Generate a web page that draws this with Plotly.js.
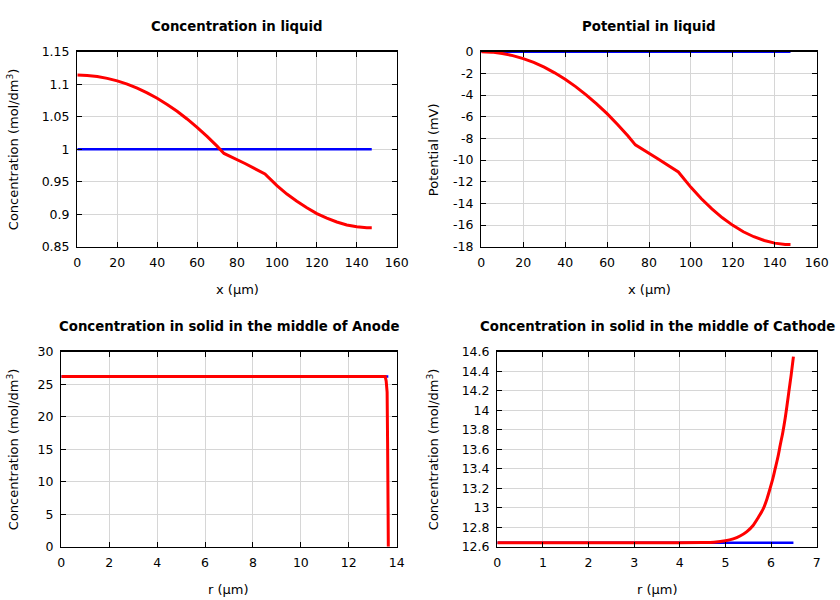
<!DOCTYPE html>
<html>
<head>
<meta charset="utf-8">
<script src="https://cdn.plot.ly/plotly-3.0.1.min.js"></script>
<style>html,body{margin:0;padding:0;background:#fff}#chart{width:840px;height:600px}</style>
</head>
<body>
<div id="chart"></div>
<script>
// ---- Concentration in liquid ----
const liqX = [0,5,10,15,20,25,30,35,40,45,50,55,60,65,70,73.5,84,94,100,105,110,115,120,125,130,135,140,145,147.5];
const liqConcRed = [1.114,1.1134,1.1118,1.109,1.1051,1.1001,1.0939,1.0867,1.0783,1.0688,1.0583,1.0465,1.0337,1.0198,1.0047,0.9935,0.978,0.962,0.944,0.931,0.920,0.910,0.901,0.894,0.888,0.8835,0.8806,0.879,0.879];
const liqBlueX = [0,147.5];
const liqConcBlue = [1,1];

// ---- Potential in liquid ----
const liqPotRed = [0,-0.04,-0.16,-0.36,-0.64,-0.99,-1.43,-1.95,-2.54,-3.22,-3.98,-4.81,-5.72,-6.72,-7.79,-8.6,-9.85,-11.1,-12.52,-13.57,-14.51,-15.33,-16.03,-16.62,-17.08,-17.43,-17.67,-17.79,-17.8];
const liqPotBlue = [0,0];
const potTickVals = [-18,-16,-14,-12,-10,-8,-6,-4,-2,0];
const potTickText = ['-18','-16','-14','-12','-10','-8','-6','-4','-2','0'];

// ---- Solid, Anode ----
const anodeR = [0,13.52,13.56,13.6,13.62,13.64,13.65];
const anodeRed = [26.2,26.2,25.5,23.8,16,6,0];
const anodeBlueR = [0,13.65];
const anodeBlue = [26.2,26.2];

// ---- Solid, Cathode ----
const cathR = [0,4,4.5,4.75,5.0,5.17,5.32,5.47,5.61,5.72,5.83,5.91,5.98,6.04,6.09,6.15,6.2,6.26,6.31,6.35,6.39,6.44,6.49];
const cathRed = [12.64,12.64,12.642,12.646,12.66,12.68,12.71,12.755,12.82,12.9,12.99,13.09,13.2,13.3,13.4,13.52,13.64,13.78,13.92,14.05,14.19,14.36,14.55];
const cathBlueR = [0,6.49];
const cathBlue = [12.64,12.64];

const titles = ['Concentration in liquid','Potential in liquid','Concentration in solid in the middle of Anode','Concentration in solid in the middle of Cathode'];
const yTitles = ['Concentration (mol/dm<sup>3</sup>)','Potential (mV)','Concentration (mol/dm<sup>3</sup>)','Concentration (mol/dm<sup>3</sup>)'];
const xTitles = ['x (µm)','x (µm)','r (µm)','r (µm)'];

const RED = '#ff0000', BLUE = '#0000ff';
function tr(x,y,c,w,xa,ya,shape){
  const line={color:c,width:w,simplify:false};
  if(shape){line.shape='spline';line.smoothing=0.8;}
  return {x:x,y:y,type:'scatter',mode:'lines',line:line,xaxis:xa,yaxis:ya,showlegend:false,hoverinfo:'skip'};
}

const data = [
  tr(liqBlueX,liqConcBlue,BLUE,2.5,'x','y'),
  tr(liqX,liqConcRed,RED,3,'x','y'),
  tr(liqBlueX,liqPotBlue,BLUE,2.5,'x2','y2'),
  tr(liqX,liqPotRed,RED,3,'x2','y2'),
  tr(anodeBlueR,anodeBlue,BLUE,2.5,'x3','y3'),
  tr(anodeR,anodeRed,RED,3,'x3','y3'),
  tr(cathBlueR,cathBlue,BLUE,2.5,'x4','y4'),
  tr(cathR,cathRed,RED,3,'x4','y4',true)
];

const W=840,H=600;
const px = v=>v/W, py = v=>1-v/H;
function ax(dom, range, dtick, anchor, extra){
  return Object.assign({domain:dom, range:range, dtick:dtick, tick0:range[0], anchor:anchor,
    showline:true, linecolor:'#000', linewidth:1.3, mirror:'allticks',
    ticks:'inside', ticklen:5, tickwidth:1, tickcolor:'#000',
    showgrid:true, gridcolor:'#d6d6d6', gridwidth:1, zeroline:false,
    ticklabelstandoff:4,
    tickfont:{family:'DejaVu Sans', size:12.5, color:'#000'}, fixedrange:true}, extra||{});
}
const rowTop=[[51.7,246.7],[351.7,546.7]];
const cols=[[77.3,396.7],[481.3,816.7],[61.3,396.7],[497.3,816.7]];
const yd = i=>{const r=rowTop[i<2?0:1];return [py(r[1]),py(r[0])];};
const xd = i=>[px(cols[i][0]),px(cols[i][1])];

const layout = {
  width:W, height:H, margin:{l:0,r:0,t:0,b:0}, paper_bgcolor:'#fff', plot_bgcolor:'#fff',
  font:{family:'DejaVu Sans', size:13, color:'#000'},
  xaxis: ax(xd(0),[0,160],20,'y'),
  yaxis: ax(yd(0),[0.85,1.15],0.05,'x'),
  xaxis2: ax(xd(1),[0,160],20,'y2'),
  yaxis2: ax(yd(1),[-18,0],2,'x2',{tickmode:'array',tickvals:potTickVals,ticktext:potTickText}),
  xaxis3: ax(xd(2),[0,14],2,'y3'),
  yaxis3: ax(yd(2),[0,30],5,'x3'),
  xaxis4: ax(xd(3),[0,7],1,'y4'),
  yaxis4: ax(yd(3),[12.6,14.6],0.2,'x4'),
  annotations:[]
};
const ytc=[13,433,13,433];
for(let i=0;i<4;i++){
  const cx=(cols[i][0]+cols[i][1])/2;
  const r=rowTop[i<2?0:1];
  layout.annotations.push({text:'<b>'+titles[i]+'</b>',xref:'paper',yref:'paper',x:px(cx),y:py(i<2?26:326),xanchor:'center',yanchor:'middle',showarrow:false,font:{family:'DejaVu Sans',size:13.3,color:'#000'}});
  layout.annotations.push({text:xTitles[i],xref:'paper',yref:'paper',x:px(cx),y:py(i<2?289:589),xanchor:'center',yanchor:'middle',showarrow:false,font:{family:'DejaVu Sans',size:13,color:'#000'}});
  layout.annotations.push({text:yTitles[i],xref:'paper',yref:'paper',x:px(ytc[i]),y:py((r[0]+r[1])/2),xanchor:'center',yanchor:'middle',textangle:-90,showarrow:false,font:{family:'DejaVu Sans',size:13,color:'#000'}});
}
Plotly.newPlot('chart',data,layout,{staticPlot:true,displayModeBar:false});
</script>
</body>
</html>
